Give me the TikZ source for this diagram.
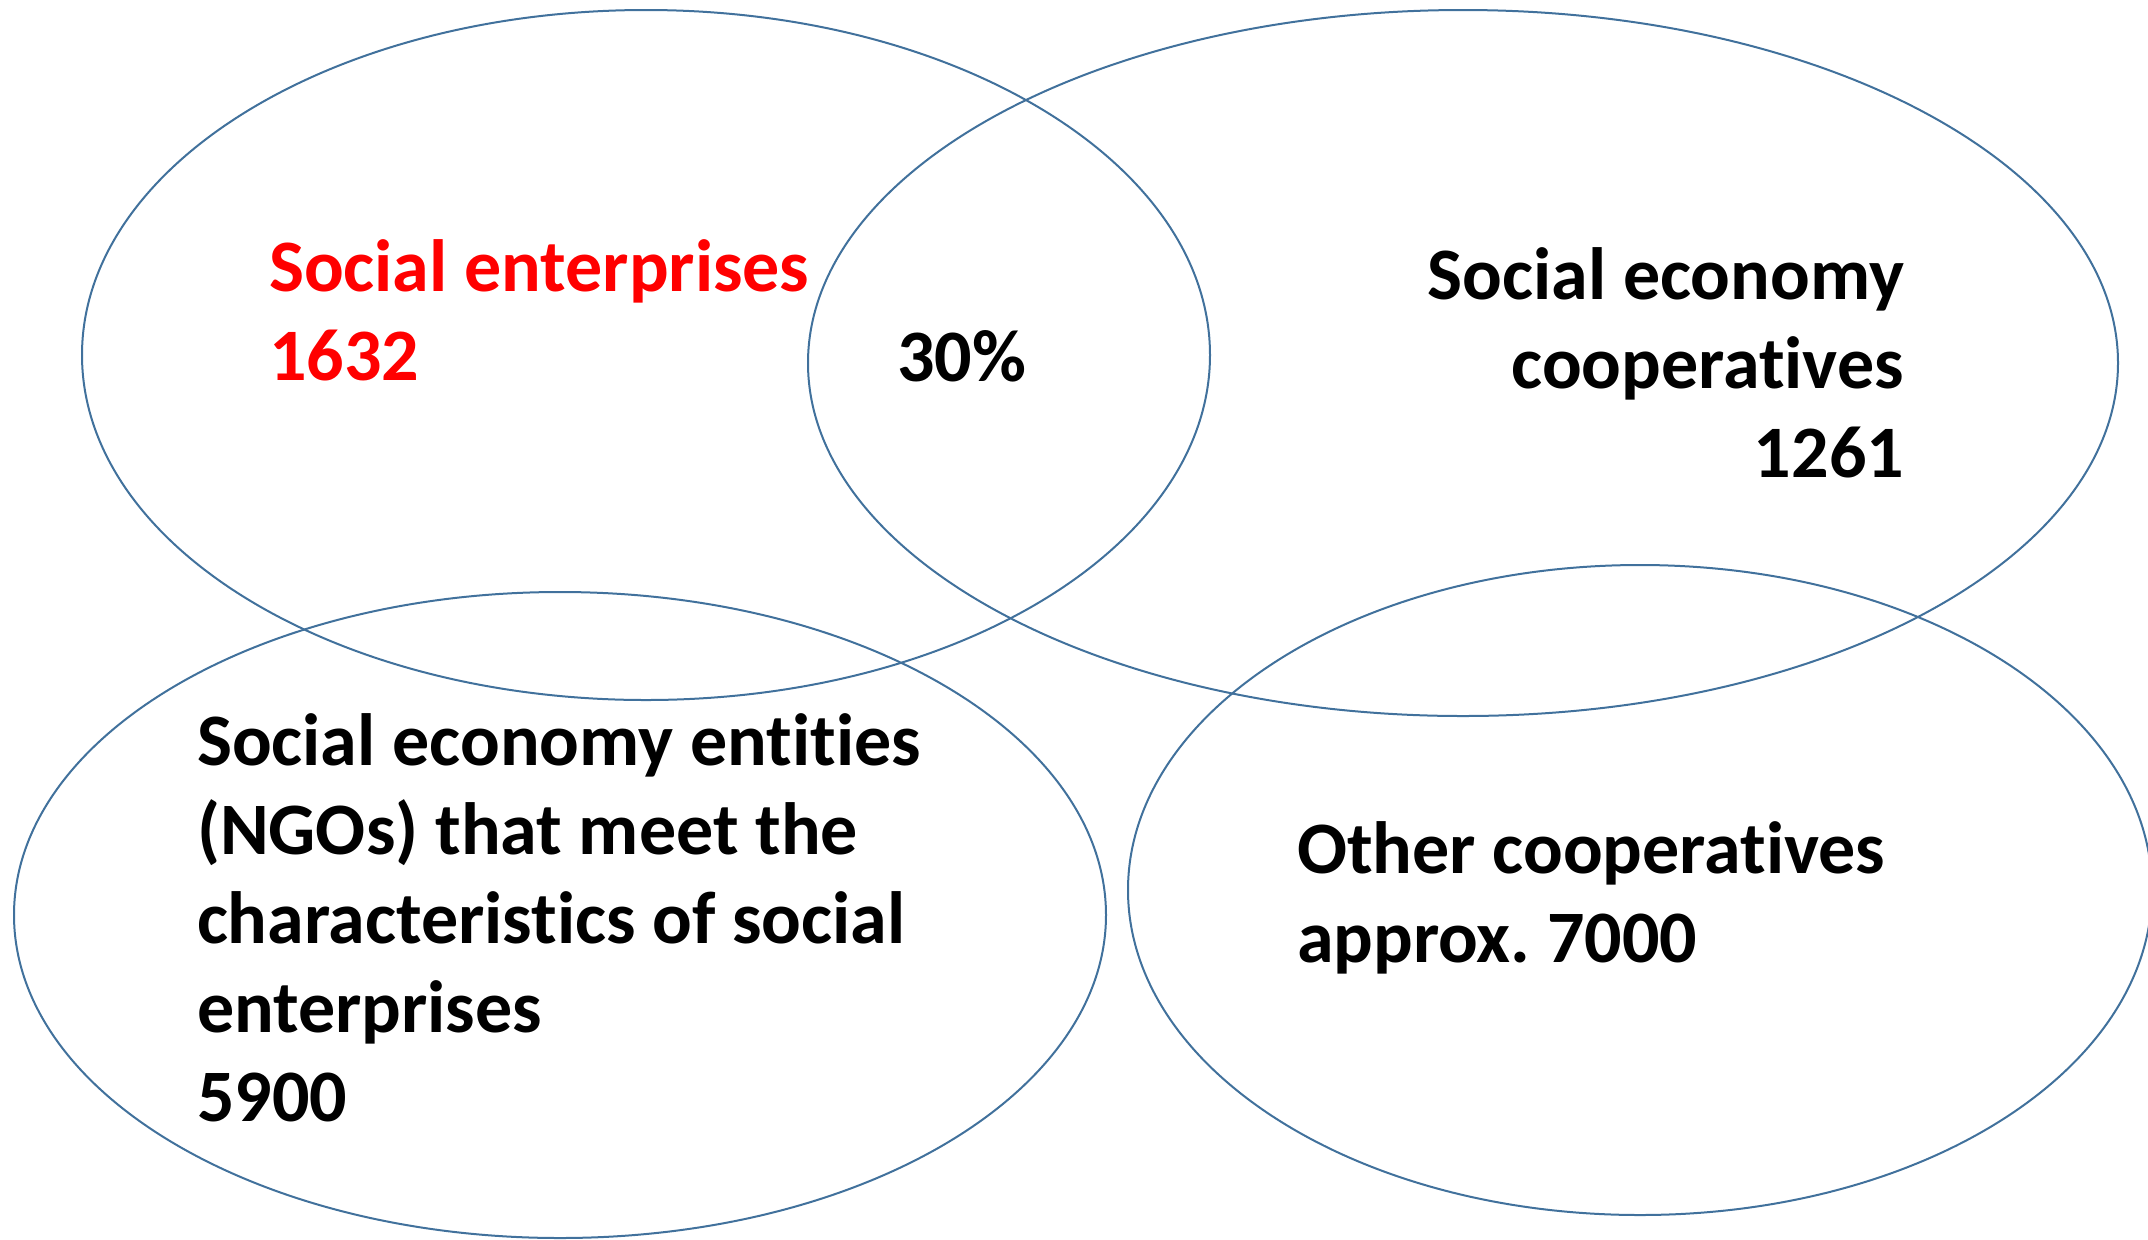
\documentclass[tikz,border=0pt]{standalone}
\usepackage{fontspec}
\setmainfont{Carlito}[Ligatures=NoCommon,Contextuals=NoAlternate]
\definecolor{ringblue}{RGB}{65,113,156}
\definecolor{sered}{RGB}{255,0,0}
\frenchspacing
\begin{document}
\begin{tikzpicture}[x=0.5pt,y=-0.5pt,
    ring/.style={draw=ringblue,line width=1pt},
    label/.style={inner sep=0pt,outer sep=0pt,font=\fontsize{37}{44.5}\selectfont\bfseries}]
      \useasboundingbox (0,0) rectangle (2148,1239);
      \draw[ring] (646,355) ellipse [x radius=564,y radius=345];
      \draw[ring] (1463,363) ellipse [x radius=655,y radius=353];
      \draw[ring] (560,915) ellipse [x radius=546,y radius=323];
      \draw[ring] (1640,890) ellipse [x radius=512,y radius=325];
      \node[label,text=sered,align=left,anchor=base west] (se) at (269,380)
        {Social enterprises\\1632};
      \node[label,anchor=base west] (share) at (897,381) {30\%};
      \node[label,align=right,anchor=base east] (sec) at (1904,477)
        {Social economy\\cooperatives\\1261};
      \node[label,align=left,anchor=base west] (ngo) at (197,1121)
        {Social economy entities\\(NGOs) that meet the\\characteristics of social\\enterprises\\5900};
      \node[label,align=left,anchor=base west] (oc) at (1297,962)
        {Other cooperatives\\approx. 7000};
\end{tikzpicture}
\end{document}
